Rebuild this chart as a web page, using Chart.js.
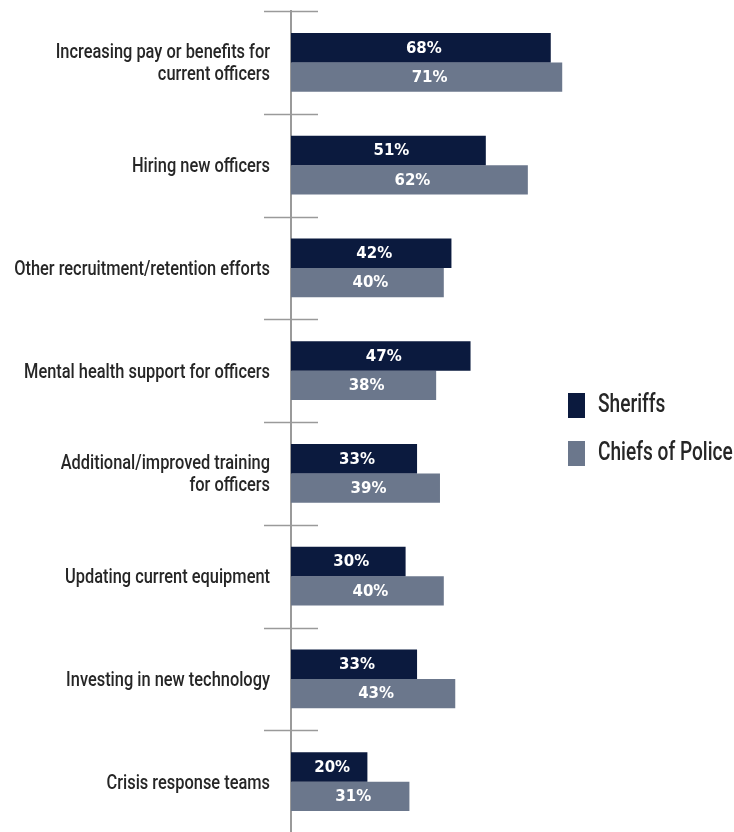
<!DOCTYPE html>
<html>
<head>
<meta charset="utf-8">
<script src="https://cdn.jsdelivr.net/npm/chart.js@4"></script>
<style>
  html, body { margin: 0; padding: 0; background: #fff; overflow: hidden; }
  #wrap { position: relative; width: 734px; height: 832px; }
  #chart { position: absolute; left: 0; top: 0; }
</style>
</head>
<body>
<div id="wrap">
  <canvas id="chart" width="734" height="840"></canvas>
</div>
<script>
const categories = [
  ["Increasing pay or benefits for", "current officers"],
  "Hiring new officers",
  "Other recruitment/retention efforts",
  "Mental health support for officers",
  ["Additional/improved training", "for officers"],
  "Updating current equipment",
  "Investing in new technology",
  "Crisis response teams"
];
const sheriffs = [68, 51, 42, 47, 33, 30, 33, 20];
const chiefs = [71, 62, 40, 38, 39, 40, 43, 31];

const colors = ["#0b1a3e", "#6b778c"];
const textColor = "#262626";

// condensed-looking text: draw a regular face squeezed horizontally
function narrowText(ctx, text, x, y, size, squeeze, align) {
  ctx.save();
  ctx.font = "500 " + size + "px Roboto, sans-serif";
  ctx.textAlign = align;
  ctx.textBaseline = "middle";
  ctx.translate(x, y);
  ctx.scale(squeeze, 1);
  ctx.fillText(text, 0, 0);
  ctx.restore();
}

// category names to the left of the axis
const categoryLabels = {
  id: "categoryLabels",
  afterDraw(chart) {
    const ctx = chart.ctx;
    const yScale = chart.scales.y;
    ctx.save();
    ctx.fillStyle = textColor;
    chart.data.labels.forEach((label, i) => {
      const lines = Array.isArray(label) ? label : [label];
      const y0 = yScale.getPixelForTick(i) - (lines.length - 1) * 11 + 2;
      lines.forEach((line, k) => {
        narrowText(ctx, line, yScale.right - 21, y0 + k * 22, 20, 0.82, "right");
      });
    });
    ctx.restore();
  }
};

// white percentage text inside each bar
const valueLabels = {
  id: "valueLabels",
  afterDatasetsDraw(chart) {
    const ctx = chart.ctx;
    ctx.save();
    ctx.fillStyle = "#fff";
    ctx.font = "bold 15px 'DejaVu Sans', sans-serif";
    ctx.textAlign = "center";
    ctx.textBaseline = "middle";
    chart.data.datasets.forEach((ds, i) => {
      chart.getDatasetMeta(i).data.forEach((bar, j) => {
        const x = (bar.x + bar.base) / 2 + 3;
        ctx.fillText(ds.data[j] + "%", x, bar.y + 1);
      });
    });
    ctx.restore();
  }
};

// short cross marks on the axis between categories
const categoryTicks = {
  id: "categoryTicks",
  afterDraw(chart) {
    const ctx = chart.ctx;
    const area = chart.chartArea;
    const step = (area.bottom - area.top) / categories.length;
    ctx.save();
    ctx.strokeStyle = "#9a9a9a";
    ctx.lineWidth = 1.5;
    for (let i = 0; i <= categories.length; i++) {
      const y = Math.round(area.top + i * step) + 0.5;
      ctx.beginPath();
      ctx.moveTo(area.left - 27, y);
      ctx.lineTo(area.left + 27, y);
      ctx.stroke();
    }
    ctx.restore();
  }
};

// legend on the right side
const sideLegend = {
  id: "sideLegend",
  afterDraw(chart) {
    const ctx = chart.ctx;
    const top = 393;
    ctx.save();
    chart.data.datasets.forEach((ds, i) => {
      const y = top + i * 48;
      ctx.fillStyle = ds.backgroundColor;
      ctx.fillRect(568, y, 17, 25);
      ctx.fillStyle = textColor;
      narrowText(ctx, ds.label, 598, y + 13, 25, 0.765, "left");
    });
    ctx.restore();
  }
};

new Chart(document.getElementById("chart"), {
  type: "bar",
  data: {
    labels: categories,
    datasets: [
      { label: "Sheriffs", data: sheriffs, backgroundColor: colors[0] },
      { label: "Chiefs of Police", data: chiefs, backgroundColor: colors[1] }
    ]
  },
  options: {
    indexAxis: "y",
    responsive: false,
    animation: false,
    layout: { padding: { top: 11, right: 61, bottom: 7, left: 0 } },
    datasets: { bar: { categoryPercentage: 0.57, barPercentage: 1 } },
    plugins: {
      legend: { display: false },
      tooltip: { enabled: false }
    },
    scales: {
      x: { display: false, min: 0, max: 100 },
      y: {
        grid: { display: false },
        border: { display: true, color: "#9a9a9a", width: 2 },
        ticks: { display: false },
        afterFit(scale) {
          scale.width = 291;
          scale.paddingTop = 0;
          scale.paddingBottom = 0;
        }
      }
    }
  },
  plugins: [valueLabels, categoryTicks, categoryLabels, sideLegend]
});
</script>
</body>
</html>
